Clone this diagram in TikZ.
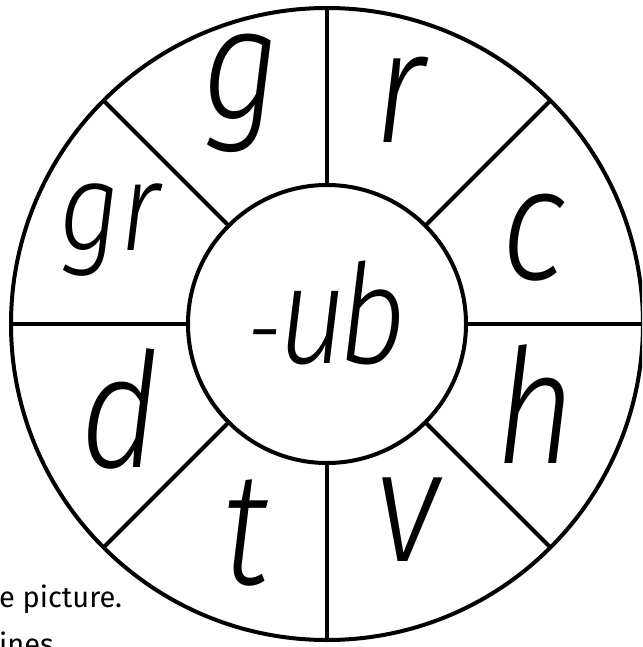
\documentclass[tikz,border=0pt]{standalone}
\usepackage{fontspec}
\usetikzlibrary{calc}
\setmainfont{Fira Sans}
\newfontfamily\hand{Fira Sans}[UprightFont={* Light Italic}, FakeStretch=0.86]
\begin{document}
\begin{tikzpicture}[x=1pt,y=-1pt,
  ring/.style={line width=4pt, draw=black},
  spoke/.style={line width=4pt, draw=black},
  letter/.style={anchor=base, inner sep=0pt, font=\hand\fontsize{160}{160}\selectfont},
  note/.style={anchor=base west, inner sep=0pt, font=\fontsize{29}{32}\selectfont}]
\useasboundingbox (0,0) rectangle (642,647);
\clip (0,0) rectangle (642,647);
\fill[white] (0,0) rectangle (642,647);
\coordinate (C) at (327,324);
\def\Rout{316}
\def\Rin{139}
\draw[ring] (C) circle[radius=\Rout];
\node[ring, circle, minimum size=278pt, inner sep=0pt] (hub) at (C) {};
\foreach \a in {0,45,...,315}{
  \draw[spoke] ($(C)+(\a:\Rin)$) -- ($(C)+(\a:\Rout)$);
}
\node[letter] (g) at (242,120) {g};
\node[letter] (r) at (400,143) {r};
\node[letter, font=\hand\fontsize{125}{125}\selectfont] (gr) at (110,250) {gr};
\node[letter] (c) at (534,279) {c};
\node[letter, font=\hand\fontsize{138}{138}\selectfont] (ub) at (327,363) {{\fontsize{100}{100}\selectfont -}\kern-.02em u\kern-.06em b};
\node[letter] (d) at (120,467) {d};
\node[letter] (h) at (536,463) {h};
\node[letter] (t) at (246,584) {t};
\node[letter] (v) at (408,561) {v};
\node[note] (n1) at (-1,607) {e picture.};
\node[note] (n2) at (-1,654) {ines};
\end{tikzpicture}
\end{document}
